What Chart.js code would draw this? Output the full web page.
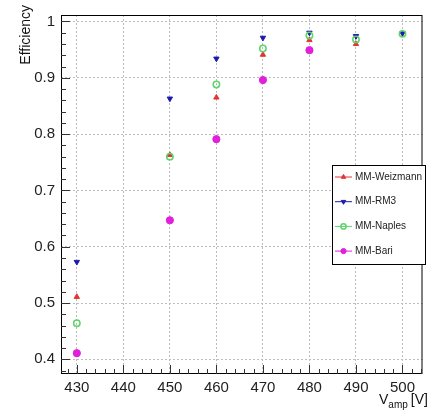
<!DOCTYPE html>
<html>
<head>
<meta charset="utf-8">
<script src="https://cdn.jsdelivr.net/npm/chart.js@4/dist/chart.umd.min.js"></script>
<style>
  body { margin: 0; background: #fff; }
</style>
</head>
<body>
<canvas id="myChart" width="428" height="412"></canvas>
<script>
// voltages (V_amp) and efficiencies
var voltages = [430, 450, 460, 470, 480, 490, 500];
var weizmann = [0.511, 0.763, 0.865, 0.941, 0.967, 0.960, null];
var rm3      = [0.573, 0.863, 0.934, 0.971, 0.980, 0.974, 0.979];
var naples   = [0.464, 0.760, 0.888, 0.952, 0.975, 0.968, 0.978];
var bari     = [0.411, 0.647, 0.791, 0.896, 0.949, null, null];

var xTicks = [430, 440, 450, 460, 470, 480, 490, 500];
var yTicks = [0.4, 0.5, 0.6, 0.7, 0.8, 0.9, 1];

var FONT = "'Liberation Sans', Arial, Helvetica, sans-serif";

function points(vals) {
  var out = [];
  for (var i = 0; i < voltages.length; i++) {
    if (vals[i] !== null) out.push({x: voltages[i], y: vals[i]});
  }
  return out;
}

// ROOT style frame, inward ticks, axis titles and legend box
var rootStyle = {
  id: 'rootStyle',
  afterDraw: function(chart) {
    var ctx = chart.ctx;
    var a = chart.chartArea;
    var xs = chart.scales.x, ys = chart.scales.y;
    ctx.save();
    ctx.strokeStyle = '#000';
    ctx.lineWidth = 1;
    ctx.strokeRect(a.left + 0.5, a.top + 0.5, a.right - a.left - 1, a.bottom - a.top - 1);

    ctx.strokeStyle = '#333';
    ctx.beginPath();
    for (var v = 428; v <= xs.max; v += 2) {
      var px = Math.round(xs.getPixelForValue(v)) + 0.5;
      var len = (v % 10 === 0) ? 9 : 5;
      ctx.moveTo(px, a.bottom);
      ctx.lineTo(px, a.bottom - len);
    }
    for (var k = 38; k <= 100; k += 2) {
      var yv = k / 100;
      var py = Math.round(ys.getPixelForValue(yv)) + 0.5;
      var l = (k % 10 === 0) ? 9 : 5;
      ctx.moveTo(a.left, py);
      ctx.lineTo(a.left + l, py);
    }
    ctx.stroke();

    // y title
    ctx.fillStyle = '#111';
    ctx.save();
    ctx.translate(30, 5);
    ctx.rotate(-Math.PI / 2);
    ctx.font = '14px ' + FONT;
    ctx.textAlign = 'right';
    ctx.textBaseline = 'alphabetic';
    ctx.fillText('Efficiency', 0, 0);
    ctx.restore();

    // x title V_amp [V]
    ctx.textAlign = 'left';
    ctx.textBaseline = 'alphabetic';
    var x0 = 379;
    ctx.font = '14px ' + FONT;
    ctx.fillText('V', x0, 404);
    x0 += ctx.measureText('V').width;
    ctx.font = '10px ' + FONT;
    ctx.fillText('amp', x0, 408);
    x0 += ctx.measureText('amp').width + 3;
    ctx.font = '14px ' + FONT;
    ctx.fillText('[V]', x0, 404);

    // legend
    var lx = 332, ly = 165, lw = 94, lh = 100;
    ctx.fillStyle = '#fff';
    ctx.fillRect(lx, ly, lw, lh);
    ctx.strokeStyle = '#000';
    ctx.strokeRect(lx + 0.5, ly + 0.5, lw - 1, lh - 1);
    var ds = chart.data.datasets;
    for (var i = 0; i < ds.length; i++) {
      var ey = ly + 12 + i * 24.7;
      ctx.strokeStyle = ds[i].borderColor;
      ctx.lineWidth = 1;
      ctx.beginPath();
      ctx.moveTo(335, ey);
      ctx.lineTo(352, ey);
      ctx.stroke();
      ctx.fillStyle = ds[i].backgroundColor;
      ctx.strokeStyle = ds[i].borderColor;
      ctx.lineWidth = ds[i].borderWidth;
      Chart.helpers.drawPoint(ctx, {
        pointStyle: ds[i].pointStyle,
        rotation: ds[i].pointRotation || 0,
        radius: 2.6,
        borderWidth: ds[i].borderWidth
      }, 343.5, ey);
      ctx.fillStyle = '#222';
      ctx.font = '10px ' + FONT;
      ctx.textBaseline = 'middle';
      ctx.fillText(ds[i].label, 355, ey);
    }
    ctx.restore();
  }
};

var ctx = document.getElementById('myChart');
var chart = new Chart(ctx, {
  type: 'scatter',
  data: {
    datasets: [{
      label: 'MM-Weizmann',
      data: points(weizmann),
      pointStyle: 'triangle',
      pointRadius: 3.1,
      borderColor: '#e23434',
      backgroundColor: '#e23434',
      borderWidth: 1,
      order: 3
    }, {
      label: 'MM-RM3',
      data: points(rm3),
      pointStyle: 'triangle',
      pointRotation: 180,
      pointRadius: 3.1,
      borderColor: '#1c1caa',
      backgroundColor: '#1c1caa',
      borderWidth: 1,
      order: 2
    }, {
      label: 'MM-Naples',
      data: points(naples),
      pointStyle: 'circle',
      pointRadius: 3.2,
      borderColor: '#5cd46a',
      backgroundColor: 'rgba(255,255,255,0)',
      borderWidth: 1.5,
      order: 1
    }, {
      label: 'MM-Bari',
      data: points(bari),
      pointStyle: 'circle',
      pointRadius: 3.6,
      borderColor: '#e21fdc',
      backgroundColor: '#e21fdc',
      borderWidth: 1,
      order: 0
    }]
  },
  options: {
    responsive: false,
    animation: false,
    devicePixelRatio: 1,
    layout: { padding: { top: 4, right: 2, left: 0, bottom: 0 } },
    plugins: { legend: { display: false }, tooltip: { enabled: false } },
    scales: {
      x: {
        type: 'linear',
        min: 426.6,
        max: 504.3,
        afterBuildTicks: function(s) { s.ticks = xTicks.map(function(v) { return {value: v}; }); },
        afterFit: function(s) { s.height = 38; },
        grid: { color: '#bdbdbd', drawTicks: false, lineWidth: 1 },
        border: { display: false, dash: [2, 2] },
        ticks: { padding: 5, color: '#222', font: { family: FONT, size: 15 }, maxRotation: 0 }
      },
      y: {
        type: 'linear',
        min: 0.374,
        max: 1.0115,
        afterBuildTicks: function(s) { s.ticks = yTicks.map(function(v) { return {value: v}; }); },
        afterFit: function(s) { s.width = 61; },
        grid: { color: '#bdbdbd', drawTicks: false, lineWidth: 1 },
        border: { display: false, dash: [2, 2] },
        ticks: {
          padding: 6, color: '#222', font: { family: FONT, size: 15 },
          callback: function(v) { return v === 1 ? '1' : v.toFixed(1); }
        }
      }
    }
  },
  plugins: [rootStyle]
});
</script>
</body>
</html>
